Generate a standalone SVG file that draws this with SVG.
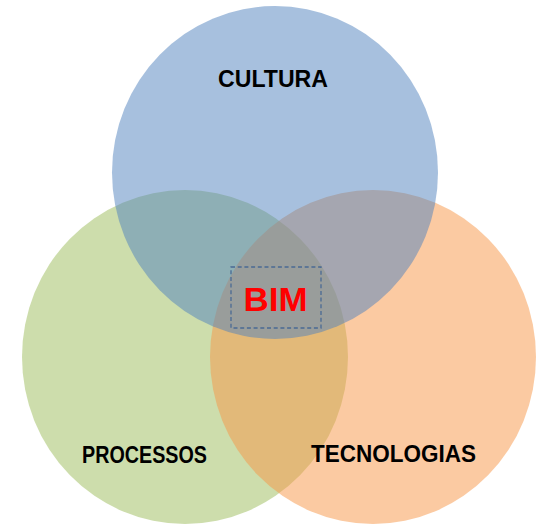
<svg xmlns="http://www.w3.org/2000/svg" width="545" height="524" viewBox="0 0 545 524">
<style>
.c{fill-opacity:0.5;stroke:none}
.lbl{font-family:"Liberation Sans",Arial,sans-serif;font-weight:bold;fill:#000;font-size:23px}
.bim{font-family:"Liberation Sans",Arial,sans-serif;font-weight:bold;fill:#FF0000;font-size:34px}
</style>
<rect width="545" height="524" fill="#FFFFFF"/>
<g id="processos">
<ellipse class="c" cx="185" cy="357" rx="163" ry="167" fill="#9BBB59"/>
<text class="lbl" x="82" y="462.5" textLength="125" lengthAdjust="spacingAndGlyphs">PROCESSOS</text>
</g>
<g id="tecnologias">
<ellipse class="c" cx="373" cy="357" rx="163" ry="167" fill="#F79646"/>
<text class="lbl" x="311" y="461.5" textLength="165" lengthAdjust="spacingAndGlyphs">TECNOLOGIAS</text>
</g>
<g id="cultura">
<ellipse class="c" cx="275" cy="172.5" rx="163" ry="166.5" fill="#4F81BD"/>
<text class="lbl" x="218" y="86.5" textLength="110" lengthAdjust="spacingAndGlyphs">CULTURA</text>
</g>
<g id="bim">
<rect x="231" y="267" width="90" height="61" fill="none" stroke="#4A6A94" stroke-width="1.3" stroke-dasharray="4,2.7"/>
<text class="bim" x="243.5" y="310.5" textLength="64" lengthAdjust="spacingAndGlyphs">BIM</text>
</g>
</svg>
